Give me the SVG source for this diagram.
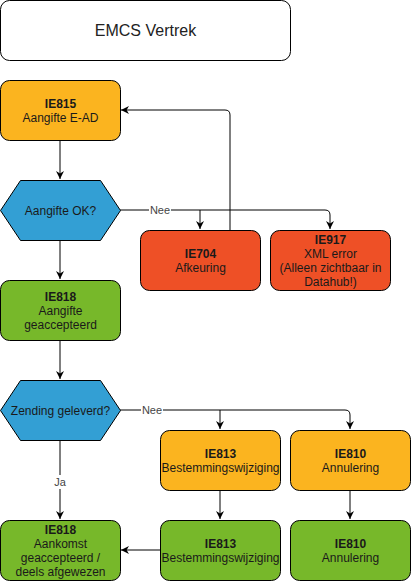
<svg xmlns="http://www.w3.org/2000/svg" width="411" height="581" viewBox="0 0 411 581">
<defs>
<marker id="arr" viewBox="0 0 10 10" refX="10" refY="5" markerWidth="8" markerHeight="8" markerUnits="userSpaceOnUse" orient="auto">
<path d="M0,0 L10,5 L0,10 L3,5 z" fill="#000"/>
</marker>
<style>
.box{stroke:#000;stroke-width:1}
.orange{fill:#FBB41F}
.red{fill:#EE5026}
.green{fill:#77B82A}
.blue{fill:#339FD4}
text{font-family:"Liberation Sans",Arial,sans-serif;font-size:12px;fill:#1a1a1a;text-anchor:middle}
.b{font-weight:bold}
.edge{fill:none;stroke:#000;stroke-width:1}
.lbl{fill:#444;font-size:11px}
</style>
</defs>
<rect width="411" height="581" fill="#fff"/>
<g id="title">
<rect x="0.5" y="0.5" width="290" height="60" rx="9" fill="#fff" class="box"/>
<text x="145.5" y="36" style="font-size:16px;fill:#222">EMCS Vertrek</text>
</g>
<g id="connectors">
<path class="edge" d="M60,140 V179" marker-end="url(#arr)"/>
<path class="edge" d="M120,210 H325 Q330,210 330,215 V229" marker-end="url(#arr)"/>
<path class="edge" d="M200,210 V229" marker-end="url(#arr)"/>
<path class="edge" d="M230,230 V115 Q230,110 225,110 H121" marker-end="url(#arr)"/>
<path class="edge" d="M60,240 V279" marker-end="url(#arr)"/>
<path class="edge" d="M60,340 V379" marker-end="url(#arr)"/>
<path class="edge" d="M120,410 H345 Q350,410 350,415 V429" marker-end="url(#arr)"/>
<path class="edge" d="M220,410 V429" marker-end="url(#arr)"/>
<path class="edge" d="M60,440 V519" marker-end="url(#arr)"/>
<path class="edge" d="M220,490 V519" marker-end="url(#arr)"/>
<path class="edge" d="M350,490 V519" marker-end="url(#arr)"/>
<path class="edge" d="M160,550 H121" marker-end="url(#arr)"/>
<rect x="149" y="203" width="22" height="14" fill="#fff"/>
<text class="lbl" x="160" y="214">Nee</text>
<rect x="141" y="403" width="22" height="14" fill="#fff"/>
<text class="lbl" x="152" y="414">Nee</text>
<rect x="53" y="475" width="14" height="14" fill="#fff"/>
<text class="lbl" x="60" y="486">Ja</text>
</g>
<g id="ie815">
<rect x="0.5" y="80.5" width="120" height="60" rx="9" class="box orange"/>
<text x="60.5" y="107.5" class="b">IE815</text>
<text x="60.5" y="121.5">Aangifte E-AD</text>
</g>
<g id="aangifte-ok">
<polygon points="0.5,210.5 20.5,180.5 100.5,180.5 120.5,210.5 100.5,240.5 20.5,240.5" class="box blue"/>
<text x="60.5" y="214.5">Aangifte OK?</text>
</g>
<g id="ie704">
<rect x="140.5" y="230.5" width="120" height="60" rx="9" class="box red"/>
<text x="200.5" y="258" class="b">IE704</text>
<text x="200.5" y="272">Afkeuring</text>
</g>
<g id="ie917">
<rect x="270.5" y="230.5" width="120" height="60" rx="9" class="box red"/>
<text x="330.5" y="243.5" class="b">IE917</text>
<text x="330.5" y="258">XML error</text>
<text x="330.5" y="272">(Alleen zichtbaar in</text>
<text x="330.5" y="286">Datahub!)</text>
</g>
<g id="ie818-aangifte">
<rect x="0.5" y="280.5" width="120" height="60" rx="9" class="box green"/>
<text x="60.5" y="300.5" class="b">IE818</text>
<text x="60.5" y="315">Aangifte</text>
<text x="60.5" y="329">geaccepteerd</text>
</g>
<g id="zending-geleverd">
<polygon points="0.5,410.5 20.5,380.5 100.5,380.5 120.5,410.5 100.5,440.5 20.5,440.5" class="box blue"/>
<text x="60.5" y="414.5">Zending geleverd?</text>
</g>
<g id="ie813-orange">
<rect x="160.5" y="430.5" width="120" height="60" rx="9" class="box orange"/>
<text x="220.5" y="457.5" class="b">IE813</text>
<text x="220.5" y="471.5">Bestemmingswijziging</text>
</g>
<g id="ie810-orange">
<rect x="290.5" y="430.5" width="120" height="60" rx="9" class="box orange"/>
<text x="350.5" y="457.5" class="b">IE810</text>
<text x="350.5" y="471.5">Annulering</text>
</g>
<g id="ie818-aankomst">
<rect x="0.5" y="520.5" width="120" height="60" rx="9" class="box green"/>
<text x="60.5" y="533.5" class="b">IE818</text>
<text x="60.5" y="547.5">Aankomst</text>
<text x="60.5" y="561.5">geaccepteerd /</text>
<text x="60.5" y="575.5">deels afgewezen</text>
</g>
<g id="ie813-green">
<rect x="160.5" y="520.5" width="120" height="60" rx="9" class="box green"/>
<text x="220.5" y="547.5" class="b">IE813</text>
<text x="220.5" y="561.5">Bestemmingswijziging</text>
</g>
<g id="ie810-green">
<rect x="290.5" y="520.5" width="120" height="60" rx="9" class="box green"/>
<text x="350.5" y="547.5" class="b">IE810</text>
<text x="350.5" y="561.5">Annulering</text>
</g>
</svg>
